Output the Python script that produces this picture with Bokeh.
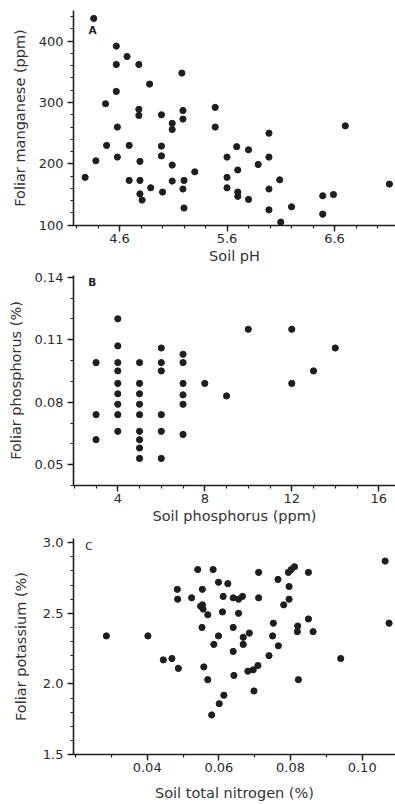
import numpy as np
from bokeh.plotting import figure
from bokeh.layouts import column
from bokeh.models import FixedTicker, PrintfTickFormatter, Range1d, Label
from bokeh.embed import file_html
from bokeh.resources import INLINE

# ---------------- data ----------------
# Panel A: soil pH vs foliar manganese (ppm)
A_PH = [4.36, 4.57, 4.67, 4.78, 4.57, 4.88, 5.18, 4.57, 4.47, 4.78, 4.78, 4.99, 5.09, 5.09,
        5.19, 5.19, 5.49, 5.49, 4.58, 5.99, 6.70,
        4.28, 4.38, 4.48, 4.58, 4.69, 4.69, 4.79, 4.79, 4.79, 4.81,
        4.89, 4.99, 4.99, 5.00, 5.09, 5.09, 5.20, 5.19, 5.20, 5.30,
        5.60, 5.60, 5.60, 5.69, 5.70, 5.70, 5.70, 5.80, 5.80, 5.89,
        5.99, 5.99, 5.99, 6.09, 6.10, 6.20, 6.49, 6.59, 6.49, 7.11]
A_MN = [437, 392, 375, 362, 362, 330, 348, 318, 298, 289, 279, 280, 266, 256,
        287, 273, 292, 260, 260, 250, 262,
        178, 205, 230, 211, 230, 173, 204, 173, 151, 141,
        161, 229, 213, 154, 198, 172, 173, 159, 128, 187,
        211, 178, 161, 228, 190, 154, 147, 223, 142, 199,
        211, 159, 125, 174, 105, 130, 148, 150, 118, 167]
A_XTICKS = [4.6, 5.6, 6.6]
A_YTICKS = [100, 200, 300, 400]

# Panel B: soil phosphorus (ppm) vs foliar phosphorus (%)
B_SOILP = [3, 3, 3,
           4, 4, 4, 4, 4, 4, 4, 4, 4,
           5, 5, 5, 5, 5, 5, 5, 5, 5,
           6, 6, 6, 6, 6, 6,
           7, 7, 7, 7, 7, 7,
           8, 9, 10, 12, 12, 13, 14]
B_FOLP = [0.099, 0.074, 0.062,
          0.120, 0.107, 0.099, 0.095, 0.089, 0.084, 0.079, 0.074, 0.066,
          0.099, 0.089, 0.084, 0.079, 0.074, 0.066, 0.062, 0.058, 0.053,
          0.106, 0.099, 0.095, 0.074, 0.066, 0.053,
          0.103, 0.099, 0.089, 0.0835, 0.079, 0.0645,
          0.089, 0.083, 0.115, 0.115, 0.089, 0.095, 0.106]
B_XTICKS = [4, 8, 12, 16]
B_YTICKS = [0.05, 0.08, 0.11, 0.14]

# Panel C: soil total nitrogen (%) vs foliar potassium (%)
C_N = [0.0286, 0.0402, 0.0445, 0.0469, 0.0487, 0.0484, 0.0485, 0.0524, 0.0541, 0.0584,
       0.0554, 0.0549, 0.0554, 0.0556, 0.0569, 0.0553, 0.0558, 0.0599, 0.0625, 0.0612,
       0.0610, 0.0599, 0.0586, 0.0640, 0.0655, 0.0666, 0.0655, 0.0640, 0.0668, 0.0685,
       0.0668, 0.0640, 0.0681, 0.0696, 0.0709, 0.0711, 0.0711, 0.0752, 0.0750, 0.0766,
       0.0740, 0.0765, 0.0781, 0.0796, 0.0796, 0.0794, 0.0802, 0.0811, 0.0820, 0.0819,
       0.0850, 0.0850, 0.0863, 0.0940, 0.1064, 0.1075, 0.0569, 0.0642, 0.0614, 0.0601,
       0.0580, 0.0698, 0.0822]
C_K = [2.34, 2.34, 2.17, 2.18, 2.11, 2.67, 2.60, 2.61, 2.81, 2.81,
       2.67, 2.55, 2.56, 2.53, 2.49, 2.40, 2.12, 2.72, 2.71, 2.62,
       2.51, 2.34, 2.28, 2.61, 2.60, 2.62, 2.50, 2.40, 2.33, 2.36,
       2.28, 2.23, 2.09, 2.10, 2.13, 2.79, 2.61, 2.43, 2.34, 2.27,
       2.20, 2.74, 2.56, 2.60, 2.69, 2.79, 2.81, 2.83, 2.41, 2.37,
       2.79, 2.46, 2.37, 2.18, 2.87, 2.43, 2.03, 2.06, 1.92, 1.86,
       1.78, 1.95, 2.03]
C_XTICKS = [0.04, 0.06, 0.08, 0.10]
C_YTICKS = [1.5, 2.0, 2.5, 3.0]

INK = "#1e1e1e"
FONT = "DejaVu Sans"


def make_panel(x, y, xr, yr, xticks, xminor, yticks, yminor, xfmt, yfmt,
               xlabel, ylabel, letter, letter_pos, letter_style,
               height, b_top, b_bottom, xtitle_standoff, ytitle_standoff):
    p = figure(width=395, height=height, output_backend="svg", toolbar_location=None,
               x_range=Range1d(*xr), y_range=Range1d(*yr),
               min_border_left=73, min_border_right=0,
               min_border_top=b_top, min_border_bottom=b_bottom)
    p.outline_line_color = None
    p.grid.visible = False
    p.background_fill_color = "white"
    p.border_fill_color = "white"
    p.scatter(x, y, size=6.2, color=INK, line_color=INK)

    p.xaxis.ticker = FixedTicker(ticks=xticks, minor_ticks=xminor)
    p.yaxis.ticker = FixedTicker(ticks=yticks, minor_ticks=yminor)
    p.xaxis.formatter = PrintfTickFormatter(format=xfmt)
    p.yaxis.formatter = PrintfTickFormatter(format=yfmt)
    for ax in (p.xaxis, p.yaxis):
        ax.axis_line_color = INK
        ax.axis_line_width = 1.6
        ax.major_tick_line_color = INK
        ax.major_tick_line_width = 1.4
        ax.minor_tick_line_color = INK
        ax.minor_tick_line_width = 1.2
        ax.major_tick_in = 0
        ax.minor_tick_in = 0
        ax.major_tick_out = 6
        ax.minor_tick_out = 3
        ax.major_label_text_font = FONT
        ax.major_label_text_font_size = "13px"
        ax.major_label_text_color = "#2a2a2a"
        ax.axis_label_text_font = FONT
        ax.axis_label_text_font_size = "14.5px"
        ax.axis_label_text_font_style = "normal"
        ax.axis_label_text_color = "#333333"
    p.xaxis.axis_label = xlabel
    p.yaxis.axis_label = ylabel
    p.xaxis.major_label_standoff = 2
    p.xaxis.axis_label_standoff = xtitle_standoff
    p.yaxis.major_label_standoff = 4
    p.yaxis.axis_label_standoff = ytitle_standoff

    p.add_layout(Label(x=letter_pos[0], y=letter_pos[1], text=letter,
                       text_font=FONT, text_font_size="10.5px",
                       text_font_style=letter_style, text_color=INK,
                       text_align="center", text_baseline="middle"))
    return p


pa = make_panel(A_PH, A_MN, (4.172, 7.167), (99.5, 450.0),
                A_XTICKS, [round(v, 1) for v in np.arange(4.2, 7.2, 0.2)],
                A_YTICKS, list(range(100, 460, 20)),
                "%.1f", "%d", "Soil pH", "Foliar manganese (ppm)",
                "A", (4.35, 419), "bold", 266, 10, 41, 2, 8)

pb = make_panel(B_SOILP, B_FOLP, (1.963, 16.77), (0.0400, 0.1408),
                B_XTICKS, list(range(2, 17)),
                B_YTICKS, [round(v, 2) for v in np.arange(0.04, 0.145, 0.01)],
                "%d", "%.2f", "Soil phosphorus (ppm)", "Foliar phosphorus (%)",
                "B", (2.82, 0.1375), "bold", 266, 9, 47, 2, 8)

pc = make_panel(C_N, C_K, (0.01943, 0.1093), (1.5, 3.03),
                C_XTICKS, [round(v, 2) for v in np.arange(0.02, 0.11, 0.01)],
                C_YTICKS, [round(v, 1) for v in np.arange(1.5, 3.05, 0.1)],
                "%.2f", "%.1f", "Soil total nitrogen (%)", "Foliar potassium (%)",
                "C", (0.0237, 2.979), "normal", 271, 6, 49, 10, 11)

layout = column(pa, pb, pc, spacing=0)

open("out.html", "w").write(file_html(layout, INLINE))
